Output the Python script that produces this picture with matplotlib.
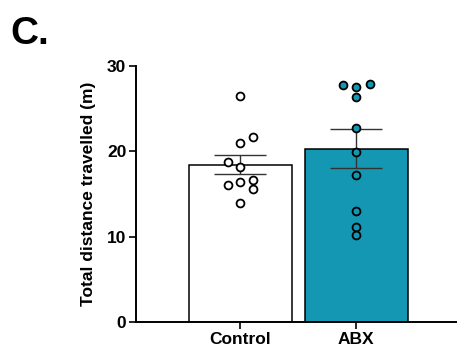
import matplotlib.pyplot as plt
import numpy as np

plt.rcParams['font.family'] = ['Liberation Sans', 'DejaVu Sans']

groups = ['Control', 'ABX']
means = [18.4, 20.3]
sem_upper = [19.6, 22.6]
sem_lower = [17.3, 18.1]
control_pts = [26.5, 21.65, 20.95, 18.75, 18.17, 16.1, 16.45, 16.7, 15.6, 14.0]
control_dx = [0, 0.11, 0, -0.11, 0, -0.11, 0, 0.11, 0.11, 0]
abx_pts = [27.8, 27.5, 27.85, 26.4, 22.7, 19.9, 17.2, 13.0, 11.1, 10.2]
abx_dx = [-0.115, 0, 0.115, 0, 0, 0, 0, 0, 0, 0]
yticks = [0, 10, 20, 30]

bar_colors = ['white', '#1497b3']
pt_colors = ['white', '#1497b3']

fig = plt.figure(figsize=(4.57, 3.56), dpi=100)
ax = fig.add_axes([0.2976, 0.0955, 0.7024, 0.719])

x = np.arange(len(groups))
ax.bar(x, means, width=0.89, color=bar_colors, edgecolor='black', linewidth=1.1, zorder=1)
yerr = [np.array(means) - np.array(sem_lower), np.array(sem_upper) - np.array(means)]
ax.errorbar(x, means, yerr=yerr, fmt='none', ecolor='#333333', elinewidth=1.0,
            capsize=18.5, capthick=1.0, zorder=2)

for i, (pts, dx) in enumerate([(control_pts, control_dx), (abx_pts, abx_dx)]):
    ax.scatter(x[i] + np.array(dx), pts, s=32, facecolor=pt_colors[i],
               edgecolor='black', linewidth=1.3, zorder=3)

ax.set_xlim(-0.9, 1.87)
ax.set_ylim(0, 30)
ax.set_yticks(yticks)
ax.set_xticks(x)
ax.set_xticklabels(groups, fontsize=12.5, fontweight='bold')
for lab in ax.get_yticklabels():
    lab.set_fontsize(12.5)
    lab.set_fontweight('bold')
ax.set_ylabel('Total distance travelled (m)', fontsize=12.5, fontweight='bold', labelpad=8)

ax.spines['top'].set_visible(False)
ax.spines['right'].set_visible(False)
ax.spines['left'].set_linewidth(1.4)
ax.spines['bottom'].set_linewidth(1.4)
ax.tick_params(axis='both', width=1.2, length=5, pad=2)

fig.text(0.022, 0.955, 'C.', fontsize=28, fontweight='bold', va='top', ha='left')

fig.savefig('out.png', dpi=100)
